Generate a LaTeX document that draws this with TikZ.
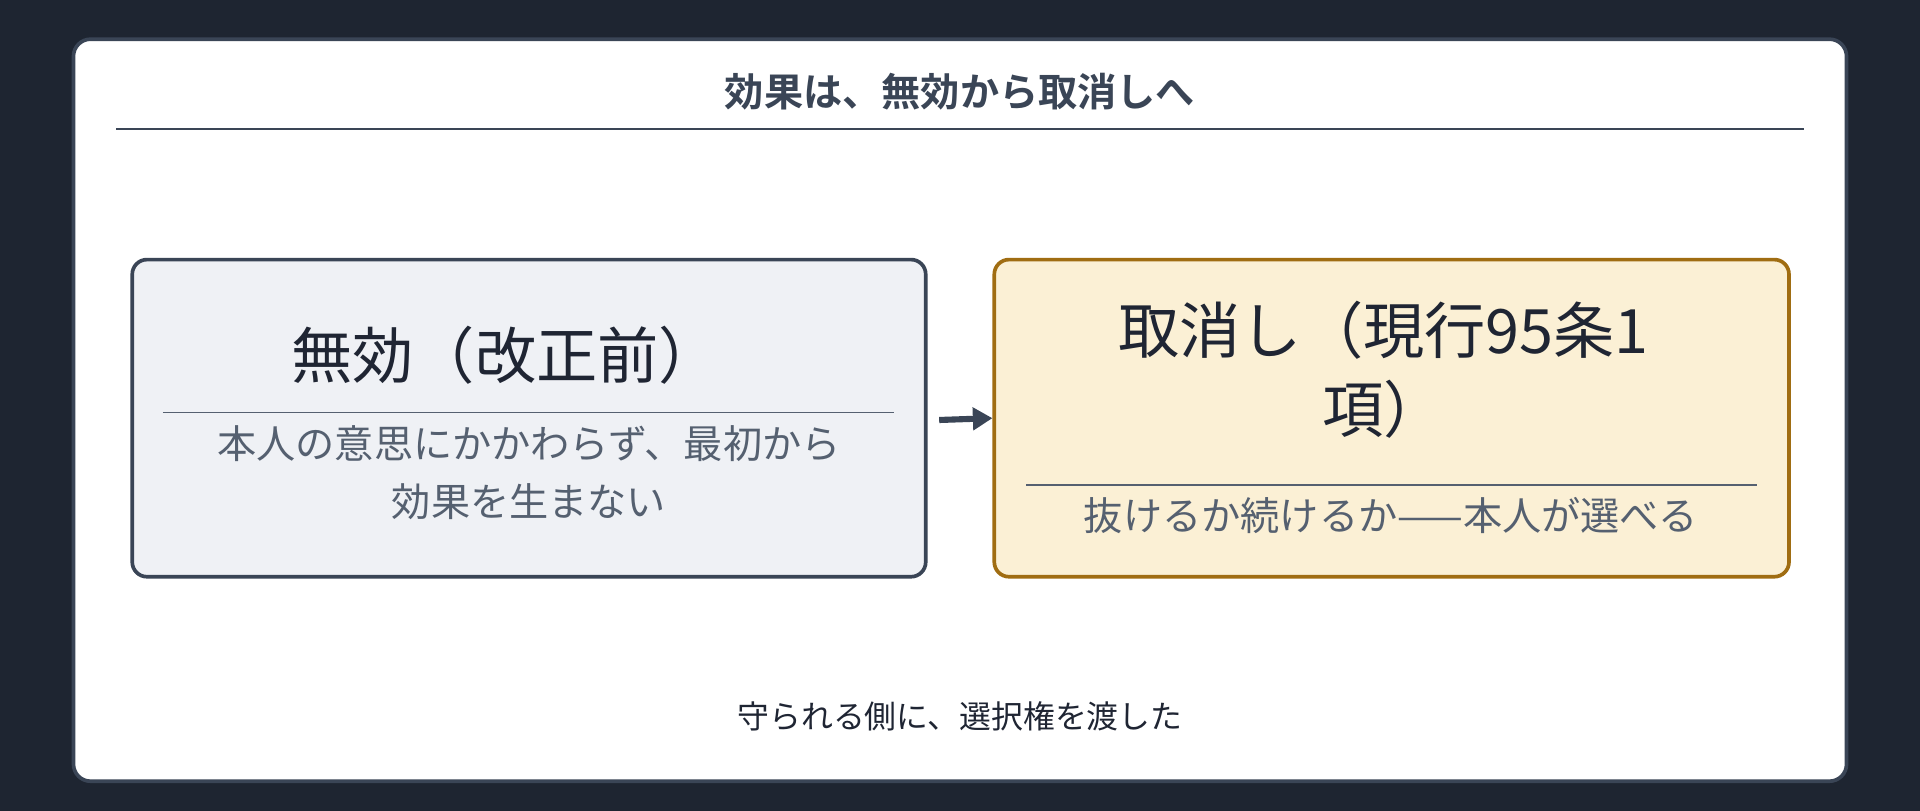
\documentclass[tikz,border=0pt]{standalone}
\usepackage{fontspec}
\setmainfont{Noto Sans CJK JP}[BoldFont=* Bold]
\usetikzlibrary{arrows.meta}
\begin{document}
\begin{tikzpicture}[x=0.5pt,y=-0.5pt,
  box/.style={rounded corners=6pt,line width=1.5pt},
  txt/.style={inner sep=0pt,align=center}]
\definecolor{bg}{HTML}{1E2531}
\definecolor{ink}{HTML}{3A4556}
\definecolor{dark}{HTML}{1F2533}
\definecolor{sub}{HTML}{556070}
\definecolor{lfill}{HTML}{EFF1F5}
\definecolor{rfill}{HTML}{FBF0D5}
\definecolor{rdraw}{HTML}{A06D12}
\fill[bg] (0,0) rectangle (1568,662);
\useasboundingbox (0,0) rectangle (1568,662);
\draw[box,fill=white,draw=ink,rounded corners=7pt] (60,32) rectangle (1508,638);
\node[txt,font=\fontsize{16}{19}\selectfont\bfseries,text=ink] (title) at (784,75) {効果は、無効から取消しへ};
\draw[ink,line width=0.8pt] (95,105) coordinate (ta) -- (1473,105) coordinate (tb);
\node[box,draw=ink,fill=lfill,minimum width=324pt,minimum height=129.5pt] (L) at (432,341.5) {};
\node[box,draw=rdraw,fill=rfill,minimum width=324.5pt,minimum height=129.5pt] (R) at (1136.5,341.5) {};
\node[txt,font=\fontsize{25}{30}\selectfont,text=dark] (lt) at (413,290) {無効（改正前）};
\draw[sub,line width=0.6pt] (133,337) coordinate (la) -- (730,337) coordinate (lb);
\node[txt,font=\fontsize{16}{24}\selectfont,text=sub] (ls) at (432,386) {本人の意思にかかわらず、最初から\\効果を生まない};
\node[txt,font=\fontsize{25}{32.5}\selectfont,text=dark] (rt) at (1130,302) {取消し（現行95条1\\項）};
\draw[sub,line width=0.6pt] (838,396) coordinate (ra) -- (1435,396) coordinate (rb);
\node[txt,font=\fontsize{16}{20}\selectfont,text=sub] (rs) at (1136,421) {抜けるか続けるか——本人が選べる};
\draw[ink,line width=2.5pt,-{Triangle[length=8pt,width=9pt]}] (767,343) -- (L.east -| R.west);
\node[txt,font=\fontsize{13}{16}\selectfont,text=dark] (ft) at (784,585) {守られる側に、選択権を渡した};
\end{tikzpicture}
\end{document}
